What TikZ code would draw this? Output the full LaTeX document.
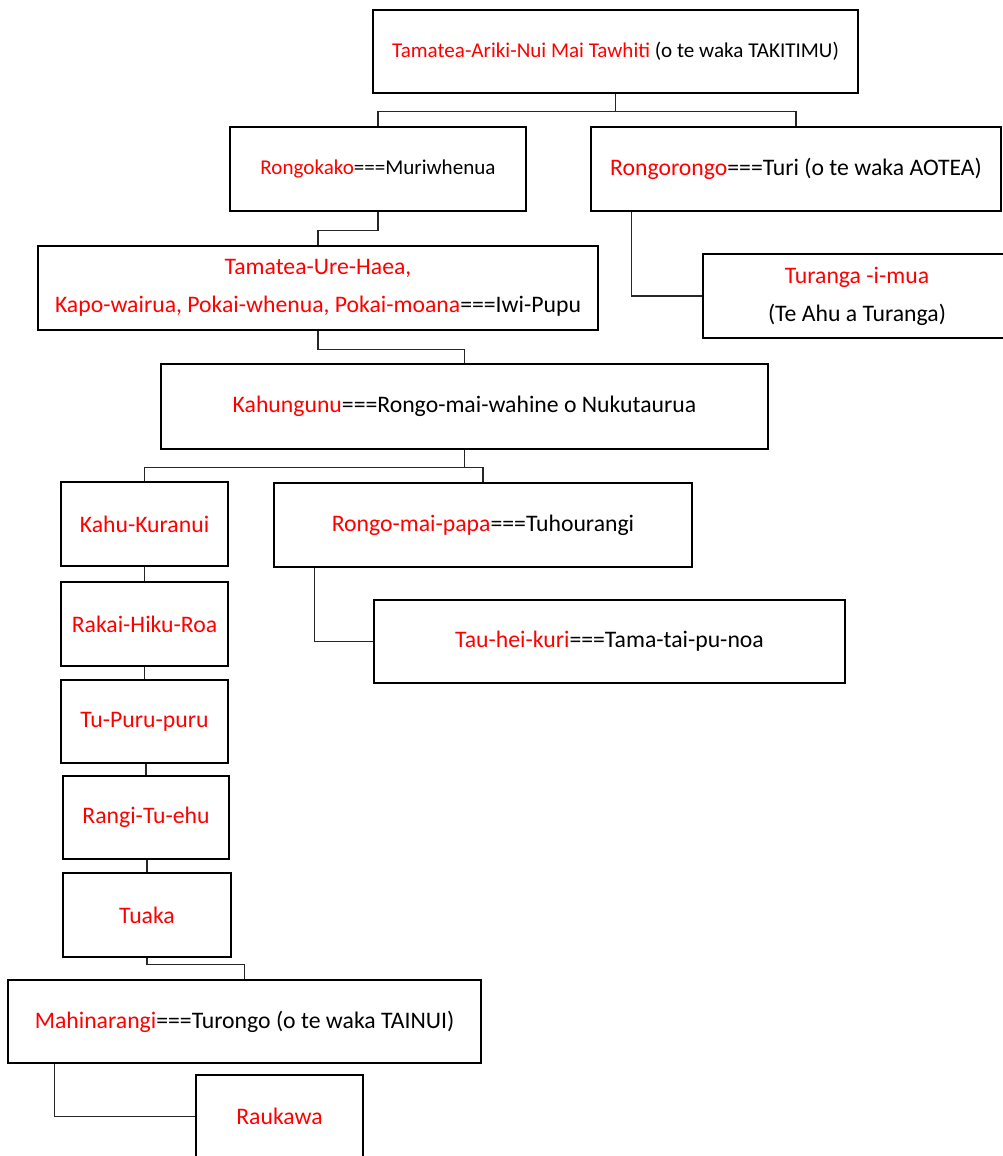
\documentclass[tikz,border=0pt]{standalone}
\usepackage{fontspec}
\setmainfont{Carlito}
\usepackage{xcolor}
\usepackage{tikz}

\newcommand{\ancestor}[1]{\textcolor{red}{#1}}

\begin{document}
\begin{tikzpicture}[
    x=0.02cm, y=-0.02cm,
    % Plain boxes and thin elbow lines
    box/.style={rectangle, draw=black, line width=1.3pt, align=center, inner sep=0pt, minimum height=1.68cm, font=\fontsize{13.5}{21.5}\selectfont},
    smallbox/.style={box, font=\fontsize{12}{14}\selectfont},
    link/.style={draw=black!85, line width=0.6pt}
]
\clip (0,0) rectangle (1003,1156);

% 1. Top: Tamatea-Ariki-Nui and his sons
\node[smallbox, minimum width=9.7cm, minimum height=1.66cm] (tamatea) at (615.5,51.5) {\ancestor{Tamatea-Ariki-Nui Mai Tawhiti} (o te waka TAKITIMU)};
\node[smallbox, minimum width=5.92cm] (rongokako) at (378,169) {\ancestor{Rongokako}===Muriwhenua};
\node[box, minimum width=8.2cm] (rongorongo) at (796,169) {\ancestor{Rongorongo}===Turi (o te waka AOTEA)};

% 2. Next generation
\node[box, minimum width=11.2cm] (urehaea) at (318,288) {\ancestor{Tamatea-Ure-Haea,} \\ \ancestor{Kapo-wairua, Pokai-whenua, Pokai-moana}===Iwi-Pupu};
\node[box, minimum width=6.16cm] (turanga) at (857,296) {\ancestor{Turanga -i-mua} \\ (Te Ahu a Turanga)};
\node[box, minimum width=12.14cm, minimum height=1.7cm] (kahungunu) at (464.5,406.5) {\ancestor{Kahungunu}===Rongo-mai-wahine o Nukutaurua};

% 3. Children of Kahungunu
\node[box, minimum width=3.34cm] (kahukuranui) at (144.5,524) {\ancestor{Kahu-Kuranui}};
\node[box, minimum width=8.36cm] (rongomaipapa) at (483,525) {\ancestor{Rongo-mai-papa}===Tuhourangi};
\node[box, minimum width=9.42cm, minimum height=1.66cm] (tauheikuri) at (609.5,641.5) {\ancestor{Tau-hei-kuri}===Tama-tai-pu-noa};

% 4. The line down to Raukawa
\node[box, minimum width=3.34cm] (rakai) at (144.5,624) {\ancestor{Rakai-Hiku-Roa}};
\node[box, minimum width=3.34cm, minimum height=1.66cm] (tupuru) at (144.5,721.5) {\ancestor{Tu-Puru-puru}};
\node[box, minimum width=3.32cm, minimum height=1.66cm] (rangi) at (146,817.5) {\ancestor{Rangi-Tu-ehu}};
\node[box, minimum width=3.36cm] (tuaka) at (147,915) {\ancestor{Tuaka}};
\node[box, minimum width=9.46cm, minimum height=1.66cm] (mahinarangi) at (244.5,1021.5) {\ancestor{Mahinarangi}===Turongo (o te waka TAINUI)};
\node[box, minimum width=3.34cm, minimum height=1.66cm] (raukawa) at (279.5,1116.5) {\ancestor{Raukawa}};

% Draw the connecting lines
\draw[link] (tamatea.south) -- ++(0,17) -| (rongokako.north);
\draw[link] (tamatea.south) -- ++(0,17) -| (rongorongo.north);
\draw[link] (rongokako.south) -- ++(0,18) -| (urehaea.north);
\draw[link] ([xshift=0.84cm]rongorongo.south west) |- (turanga.west);
\draw[link] (urehaea.south) -- ++(0,18) -| (kahungunu.north);
\draw[link] (kahungunu.south) -- ++(0,17) -| (kahukuranui.north);
\draw[link] (kahungunu.south) -- ++(0,17) -| (rongomaipapa.north);
\draw[link] ([xshift=0.84cm]rongomaipapa.south west) |- (tauheikuri.west);
\draw[link] (kahukuranui.south) -- (rakai.north);
\draw[link] (rakai.south) -- (tupuru.north);
\draw[link] (rangi.north |- tupuru.south) -- (rangi.north);
\draw[link] (tuaka.north |- rangi.south) -- (tuaka.north);
\draw[link] (tuaka.south) -- ++(0,6) -| (mahinarangi.north);
\draw[link] ([xshift=0.96cm]mahinarangi.south west) |- (raukawa.west);

\end{tikzpicture}
\end{document}
